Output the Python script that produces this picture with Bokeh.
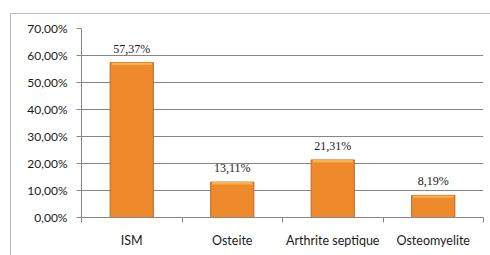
from bokeh.plotting import figure
from bokeh.models import FixedTicker, ColumnDataSource, LabelSet
from bokeh.embed import file_html
from bokeh.resources import INLINE

categories = ["ISM", "Osteite", "Arthrite septique", "Osteomyelite"]
values = [57.37, 13.11, 21.31, 8.19]
value_labels = ["57,37%", "13,11%", "21,31%", "8,19%"]
y_ticks = [0, 10, 20, 30, 40, 50, 60, 70]
y_tick_labels = ["0,00%", "10,00%", "20,00%", "30,00%", "40,00%", "50,00%", "60,00%", "70,00%"]

FONT = "Lato"
TXT = "#1a1a1a"
xs = [i + 0.5 for i in range(len(categories))]

p = figure(width=480, height=242, output_backend="svg", toolbar_location=None,
           x_range=(0, len(categories)), y_range=(0, 70),
           min_border_left=70, min_border_right=8, min_border_top=14, min_border_bottom=39)
p.margin = (13, 0, 0, 10)
p.styles = {"border-left": "1px solid #bcbcbc", "border-top": "1px solid #bcbcbc"}
p.outline_line_color = None
p.background_fill_color = "white"
p.border_fill_color = "white"

src = ColumnDataSource(dict(x=xs, top=values, lab=value_labels,
                            hl=[v - 0.9 for v in values]))
p.vbar(x="x", top="top", bottom=0, width=0.43, source=src,
       fill_color="#ee8a2c", line_color="#b9692c", line_width=1)
p.vbar(x="x", top="top", bottom="hl", width=0.40, source=src,
       fill_color="#fbb04e", line_color=None)

labels = LabelSet(x="x", y="top", text="lab", source=src, text_align="center",
                  text_baseline="bottom", y_offset=7, text_font=FONT,
                  text_font_size="12px", text_color=TXT)
p.add_layout(labels)

# axes
p.xaxis.ticker = FixedTicker(ticks=xs, minor_ticks=list(range(len(categories) + 1)))
p.xaxis.major_label_overrides = {x: c for x, c in zip(xs, categories)}
p.xaxis.major_tick_out = 0
p.xaxis.major_tick_in = 0
p.xaxis.minor_tick_out = 5
p.xaxis.minor_tick_in = 0
p.xaxis.minor_tick_line_color = "#868686"
p.xaxis.axis_line_color = "#868686"
p.xaxis.major_label_standoff = 10
p.xaxis.major_label_text_font = FONT
p.xaxis.major_label_text_font_size = "12.5px"
p.xaxis.major_label_text_color = TXT

p.yaxis.ticker = FixedTicker(ticks=y_ticks, minor_ticks=[])
p.yaxis.major_label_overrides = {t: l for t, l in zip(y_ticks, y_tick_labels)}
p.yaxis.major_tick_out = 5
p.yaxis.major_tick_in = 0
p.yaxis.major_tick_line_color = "#868686"
p.yaxis.axis_line_color = "#868686"
p.yaxis.major_label_standoff = 9
p.yaxis.major_label_text_font = FONT
p.yaxis.major_label_text_font_size = "12px"
p.yaxis.major_label_text_color = TXT

p.xgrid.grid_line_color = None
p.ygrid.grid_line_color = "#868686"
p.ygrid.grid_line_width = 1

open("out.html", "w").write(file_html(p, INLINE))
